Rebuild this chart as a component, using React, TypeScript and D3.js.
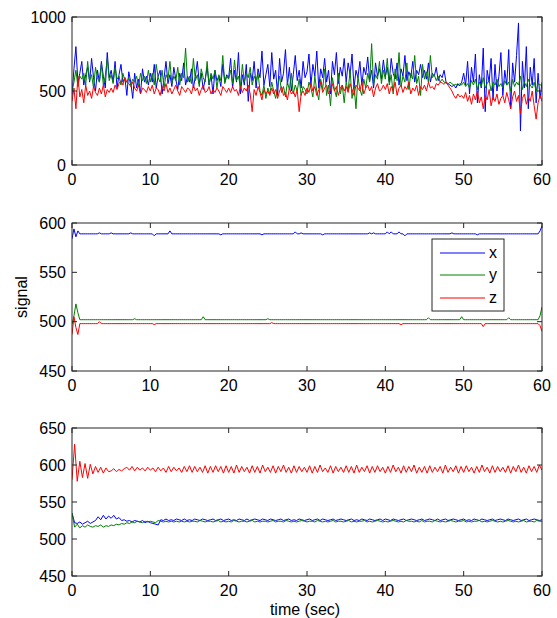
import React from 'react';
import * as d3 from 'd3';

// sampling steps (sec)
const rawDt = 0.25;
const filtDt = 1 / 3;

const xTicks = [0, 10, 20, 30, 40, 50, 60];
const rawTicks = [0, 500, 1000];
const midTicks = [450, 500, 550, 600];
const filtTicks = [450, 500, 550, 600, 650];
const seriesNames = ['x', 'y', 'z'];
const seriesColors = ['#0000ff', '#008000', '#ff0000'];

// raw accelerometer signal
const rawX = [
  470, 650, 800, 560, 620, 700, 540, 610, 660, 560, 720, 590, 500, 640, 560, 700, 600, 520, 760, 590,
  640, 560, 700, 520, 610, 680, 560, 590, 470, 630, 560, 450, 620, 520, 580, 480, 650, 560, 600, 540,
  620, 560, 680, 520, 600, 640, 480, 590, 700, 550, 610, 530, 660, 580, 510, 620, 570, 690, 540, 600,
  560, 650, 520, 600, 700, 550, 620, 510, 580, 660, 540, 610, 480, 640, 570, 600, 530, 680, 560, 610,
  590, 720, 520, 640, 560, 760, 480, 610, 540, 680, 430, 620, 570, 700, 520, 650, 590, 770, 540, 610,
  680, 530, 760, 580, 640, 470, 720, 560, 620, 780, 540, 660, 500, 610, 740, 570, 640, 520, 700, 590,
  630, 750, 540, 680, 600, 770, 520, 650, 590, 720, 560, 640, 480, 700, 610, 760, 550, 660, 600, 720,
  560, 690, 610, 750, 520, 640, 590, 700, 540, 660, 610, 730, 570, 640, 520, 690, 600, 650, 580, 710,
  600, 660, 560, 720, 620, 580, 690, 540, 650, 600, 740, 570, 630, 590, 700, 560, 640, 610, 680, 590,
  640, 580, 690, 560, 620, 600, 660, 570, 610, 590, 640, 560, 550, 540, 530, 540, 520, 550, 535, 560,
  620, 540, 700, 480, 660, 560, 750, 420, 610, 520, 790, 360, 640, 560, 720, 440, 680, 500, 600, 760,
  470, 640, 540, 780, 380, 690, 560, 740, 960, 230, 700, 520, 800, 380, 660, 540, 720, 420, 620, 450,
  560,
];
const rawY = [
  500, 560, 640, 530, 600, 580, 620, 540, 700, 570, 610, 520, 660, 590, 560, 680, 540, 600, 720, 570,
  610, 550, 660, 580, 600, 540, 620, 570, 560, 590, 540, 580, 560, 600, 530, 620, 570, 600, 550, 640,
  560, 620, 540, 680, 590, 560, 640, 520, 610, 580, 700, 550, 600, 570, 660, 540, 620, 590, 790, 560,
  600, 550, 720, 570, 610, 530, 650, 590, 560, 700, 540, 620, 580, 640, 520, 610, 570, 740, 550, 600,
  580, 640, 550, 710, 570, 600, 530, 680, 560, 620, 590, 660, 540, 600, 570, 620, 500, 470, 540, 450,
  520, 480, 560, 500, 450, 540, 600, 490, 530, 460, 560, 510, 620, 480, 540, 500, 580, 470, 530, 510,
  480, 560, 520, 460, 600, 500, 440, 580, 510, 650, 470, 540, 400, 590, 510, 460, 620, 480, 540, 420,
  560, 500, 640, 450, 540, 380, 600, 510, 470, 580, 520, 620, 560, 820, 540, 610, 580, 700, 550, 640,
  580, 720, 540, 610, 480, 650, 570, 760, 530, 600, 560, 690, 510, 620, 580, 740, 550, 600, 470, 680,
  580, 630, 560, 740, 590, 610, 570, 600, 560, 580, 560, 555, 545, 560, 550, 540, 545, 535, 550, 540,
  560, 530, 550, 520, 570, 540, 580, 510, 560, 530, 590, 520, 550, 570, 500, 560, 540, 580, 530, 550,
  520, 570, 540, 560, 500, 580, 530, 560, 540, 600, 510, 560, 530, 580, 540, 520, 560, 500, 550, 540,
  545,
];
const rawZ = [
  430, 520, 380, 600, 460, 510, 420, 540, 470, 500, 450, 530, 490, 470, 520, 480, 540, 460, 510, 490,
  520, 490, 540, 510, 550, 570, 540, 590, 560, 550, 530, 560, 520, 500, 540, 480, 520, 510, 490, 530,
  500, 540, 480, 520, 510, 470, 530, 500, 550, 490, 520, 480, 510, 540, 500, 470, 530, 510, 490, 520,
  510, 480, 540, 500, 520, 470, 510, 540, 490, 500, 530, 480, 510, 490, 520, 500, 470, 530, 510, 490,
  520, 490, 530, 500, 510, 470, 530, 490, 520, 500, 540, 480, 360, 510, 470, 530, 490, 440, 510, 480,
  500, 470, 520, 480, 510, 450, 500, 530, 470, 490, 440, 520, 480, 500, 460, 510, 360, 480, 500, 470,
  520, 490, 550, 500, 530, 470, 510, 560, 490, 520, 540, 480, 510, 550, 500, 530, 470, 520, 540, 500,
  530, 490, 550, 510, 470, 540, 520, 500, 560, 480, 520, 540, 500, 530, 460, 520, 550, 500, 510, 540,
  510, 550, 480, 530, 500, 560, 470, 520, 540, 490, 530, 510, 560, 480, 520, 500, 540, 470, 530, 510,
  540, 500, 560, 520, 530, 510, 550, 540, 560, 555, 545, 560, 540, 520, 500, 470, 450, 480, 460, 470,
  450, 490, 430, 470, 410, 480, 440, 500, 420, 460, 380, 470, 440, 510, 400, 460, 430, 480, 410, 450,
  470, 420, 490, 440, 380, 460, 500, 430, 470, 350, 450, 480, 410, 460, 430, 500, 400, 310, 420, 470,
  430,
];

// calibrated signal
const midX = [
  584, 594, 586, 592, 589, 589, 589, 589, 589, 589, 589, 589, 589, 589, 590, 589, 589, 589, 589, 589,
  590, 589, 589, 589, 589, 589, 589, 589, 589, 589, 590, 589, 589, 589, 589, 589, 589, 589, 589, 589,
  589, 589, 587, 589, 589, 589, 589, 589, 589, 589, 592, 589, 589, 589, 589, 589, 589, 589, 589, 589,
  589, 589, 589, 589, 589, 589, 589, 589, 589, 589, 589, 589, 589, 589, 589, 589, 588, 589, 589, 589,
  589, 589, 589, 589, 589, 589, 589, 589, 589, 589, 589, 589, 589, 589, 589, 589, 589, 588, 589, 589,
  589, 589, 589, 589, 589, 589, 589, 589, 589, 589, 589, 589, 589, 589, 591, 589, 589, 590, 589, 589,
  589, 589, 589, 589, 589, 589, 589, 589, 588, 589, 589, 589, 589, 589, 589, 589, 589, 589, 589, 589,
  589, 589, 589, 589, 589, 589, 589, 589, 589, 589, 589, 589, 590, 589, 590, 589, 589, 589, 589, 589,
  589, 591, 589, 591, 589, 589, 589, 591, 589, 589, 587, 589, 589, 589, 589, 589, 589, 589, 589, 589,
  589, 589, 589, 589, 589, 589, 589, 589, 589, 589, 589, 589, 589, 589, 590, 589, 589, 589, 589, 589,
  589, 589, 589, 589, 589, 589, 589, 588, 589, 589, 589, 589, 589, 589, 589, 589, 589, 589, 589, 589,
  589, 589, 589, 589, 589, 589, 589, 589, 589, 589, 589, 589, 589, 589, 589, 589, 589, 589, 589, 592,
  597,
];
const midY = [
  497, 506, 518, 509, 502, 502, 502, 502, 502, 502, 502, 502, 502, 502, 502, 502, 502, 502, 502, 502,
  502, 502, 502, 502, 502, 502, 502, 502, 502, 502, 502, 502, 503, 502, 502, 502, 502, 502, 502, 502,
  502, 502, 502, 502, 502, 502, 502, 502, 502, 502, 502, 502, 502, 502, 502, 502, 502, 502, 502, 502,
  502, 502, 502, 502, 502, 502, 502, 505, 502, 502, 502, 502, 502, 502, 502, 502, 502, 502, 502, 502,
  502, 502, 502, 502, 502, 502, 502, 502, 502, 502, 502, 502, 502, 502, 502, 502, 502, 502, 502, 502,
  503, 502, 502, 502, 502, 502, 502, 502, 502, 502, 502, 502, 502, 502, 502, 502, 502, 502, 502, 502,
  502, 502, 502, 502, 502, 502, 502, 502, 502, 502, 502, 502, 502, 502, 502, 502, 502, 502, 502, 502,
  502, 502, 502, 502, 502, 502, 502, 502, 502, 502, 502, 502, 502, 502, 502, 502, 502, 502, 502, 502,
  502, 502, 502, 502, 502, 502, 502, 502, 502, 502, 502, 502, 502, 502, 502, 502, 502, 502, 502, 502,
  502, 502, 504, 502, 502, 502, 502, 502, 502, 502, 502, 502, 502, 502, 502, 502, 502, 502, 502, 505,
  502, 502, 502, 502, 502, 502, 502, 502, 502, 502, 502, 502, 502, 502, 502, 502, 502, 502, 502, 502,
  502, 502, 502, 504, 502, 502, 502, 502, 502, 502, 502, 502, 502, 502, 502, 502, 502, 502, 502, 506,
  515,
];
const midZ = [
  487, 505, 494, 487, 498, 498, 498, 498, 498, 498, 498, 498, 498, 498, 500, 498, 498, 498, 498, 498,
  498, 498, 498, 498, 498, 498, 498, 498, 498, 498, 498, 498, 498, 498, 498, 498, 498, 498, 498, 498,
  498, 498, 497, 498, 498, 498, 498, 498, 498, 498, 498, 498, 498, 498, 498, 498, 498, 498, 498, 498,
  498, 498, 498, 498, 498, 498, 498, 498, 498, 498, 498, 498, 498, 498, 498, 498, 498, 498, 498, 498,
  498, 498, 498, 498, 498, 498, 498, 498, 498, 498, 498, 498, 498, 498, 498, 498, 498, 498, 498, 498,
  498, 498, 499, 498, 498, 498, 498, 498, 498, 498, 498, 498, 498, 498, 498, 498, 498, 498, 498, 498,
  498, 498, 498, 498, 498, 498, 498, 498, 498, 498, 498, 498, 498, 498, 498, 498, 498, 498, 498, 498,
  498, 498, 498, 498, 498, 498, 498, 498, 498, 498, 498, 498, 498, 498, 498, 498, 498, 498, 498, 498,
  498, 498, 498, 498, 498, 498, 498, 498, 497, 498, 498, 498, 498, 498, 498, 498, 498, 498, 498, 498,
  498, 498, 498, 498, 498, 498, 498, 498, 498, 498, 498, 498, 498, 498, 498, 498, 498, 498, 498, 498,
  498, 498, 498, 498, 498, 498, 498, 498, 498, 498, 495, 498, 498, 498, 498, 498, 498, 498, 498, 498,
  498, 498, 498, 498, 498, 498, 498, 498, 498, 498, 498, 498, 498, 498, 498, 498, 498, 498, 498, 496,
  490,
];

// filtered signal
const filtX = [
  535, 522, 521, 523, 520, 522, 524, 521, 523, 525, 530, 526, 532, 527, 531,
  528, 532, 527, 529, 525, 526, 524, 525, 523, 525, 524, 523, 525, 522, 524,
  522, 521, 520, 519, 526, 525, 527, 525, 526, 525, 527, 526, 525, 527, 525,
  526, 525, 527, 526, 525, 527, 526, 525, 526, 527, 525, 526, 527, 525, 526,
  527, 525, 526, 525, 527, 526, 525, 527, 525, 526, 527, 526, 525, 527, 526,
  525, 527, 526, 525, 526, 527, 525, 526, 527, 525, 526, 525, 527, 526, 525,
  526, 527, 525, 526, 527, 525, 527, 526, 525, 526, 527, 525, 526, 527, 526,
  525, 526, 527, 525, 526, 525, 527, 526, 525, 527, 526, 525, 526, 527, 525,
  527, 526, 525, 527, 526, 525, 526, 527, 525, 526, 527, 526, 525, 526, 527,
  525, 526, 527, 526, 525, 527, 525, 526, 527, 525, 526, 527, 526, 525, 526,
  527, 525, 526, 525, 527, 526, 525, 527, 526, 525, 526, 527, 525, 526, 527,
  526, 525, 527, 526, 525, 526, 527, 525, 526, 527, 525, 526, 527, 526, 525,
  526,
];
const filtY = [
  535, 516, 520, 515, 518, 516, 519, 517, 516, 518, 517, 519, 516, 518, 517,
  519, 518, 520, 519, 521, 520, 522, 521, 523, 522, 524, 523, 522, 524, 523,
  524, 523, 522, 525, 524, 523, 524, 523, 524, 523, 524, 523, 524, 523, 524,
  523, 524, 524, 523, 525, 524, 523, 524, 524, 523, 524, 525, 523, 524, 523,
  524, 523, 525, 524, 523, 524, 524, 523, 524, 525, 523, 524, 523, 524, 524,
  523, 524, 525, 523, 524, 524, 523, 525, 524, 523, 524, 523, 524, 525, 524,
  523, 524, 524, 523, 525, 524, 523, 524, 523, 524, 525, 523, 524, 524, 523,
  524, 525, 523, 524, 523, 524, 524, 525, 523, 524, 523, 524, 525, 524, 523,
  524, 523, 524, 525, 524, 523, 524, 523, 525, 524, 524, 523, 524, 523, 525,
  523, 524, 524, 523, 525, 524, 523, 524, 523, 524, 525, 524, 523, 524, 524,
  525, 523, 524, 523, 524, 524, 525, 523, 524, 523, 524, 525, 524, 523, 524,
  523, 524, 525, 524, 523, 524, 523, 524, 525, 523, 524, 524, 523, 525, 524,
  524,
];
const filtZ = [
  580, 628, 578, 605, 583, 602, 582, 601, 588, 598, 590, 597, 589, 596, 591,
  592, 595, 591, 594, 592, 595, 597, 593, 598, 592, 597, 593, 596, 592, 597,
  593, 596, 591, 597, 592, 596, 590, 598, 591, 597, 592, 596, 590, 598, 591,
  599, 590, 598, 591, 597, 590, 599, 589, 598, 590, 599, 591, 598, 589, 599,
  590, 598, 589, 600, 590, 598, 591, 597, 589, 599, 590, 598, 589, 600, 591,
  597, 590, 599, 589, 598, 591, 600, 590, 597, 589, 599, 590, 598, 591, 597,
  590, 599, 589, 598, 590, 600, 591, 596, 590, 599, 589, 598, 591, 597, 590,
  599, 590, 598, 589, 600, 590, 597, 591, 599, 589, 598, 590, 599, 591, 597,
  589, 598, 590, 600, 591, 597, 589, 599, 590, 598, 591, 600, 589, 597, 590,
  598, 589, 599, 590, 597, 591, 598, 589, 600, 590, 597, 591, 599, 589, 598,
  590, 599, 591, 597, 589, 598, 590, 600, 591, 597, 589, 599, 590, 598, 591,
  597, 590, 599, 589, 598, 591, 600, 590, 597, 589, 599, 591, 598, 590, 600,
  593,
];

const left = 72;
const right = 542;
const plotH = 148;
const font = 'Liberation Sans, Arial, Helvetica, sans-serif';
const axisColor = '#262626';

type PanelProps = {
  id: string;
  top: number;
  domain: [number, number];
  ticks: number[];
  series: number[][];
  dt: number;
  children?: React.ReactNode;
};

const Panel = ({ id, top, domain, ticks, series, dt, children }: PanelProps) => {
  const x = d3.scaleLinear().domain([0, 60]).range([left, right]);
  const y = d3.scaleLinear().domain(domain).range([top + plotH, top]);
  const line = d3.line<number>().x((_, i) => x(i * dt)).y(d => y(d));
  const bottom = top + plotH;

  return (
    <g>
      <defs>
        <clipPath id={id}>
          <rect x={left} y={top} width={right - left} height={plotH} />
        </clipPath>
      </defs>
      <rect x={left} y={top} width={right - left} height={plotH} fill="#fff" />
      <g clipPath={`url(#${id})`}>
        {series.map((s, k) => (
          <path key={k} d={line(s) || ''} fill="none" stroke={seriesColors[k]} strokeWidth={1} />
        ))}
      </g>
      <rect x={left} y={top} width={right - left} height={plotH} fill="none" stroke={axisColor} strokeWidth={1} />
      {xTicks.map(t => (
        <g key={'x' + t}>
          <line x1={x(t)} x2={x(t)} y1={bottom} y2={bottom - 5} stroke={axisColor} />
          <line x1={x(t)} x2={x(t)} y1={top} y2={top + 5} stroke={axisColor} />
          <text x={x(t)} y={bottom + 20} textAnchor="middle" fontSize={16} fontFamily={font} fill="#000">{t}</text>
        </g>
      ))}
      {ticks.map(t => (
        <g key={'y' + t}>
          <line x1={left} x2={left + 5} y1={y(t)} y2={y(t)} stroke={axisColor} />
          <line x1={right} x2={right - 5} y1={y(t)} y2={y(t)} stroke={axisColor} />
          <text x={left - 6} y={y(t)} dy="0.36em" textAnchor="end" fontSize={16} fontFamily={font} fill="#000">{t}</text>
        </g>
      ))}
      {children}
    </g>
  );
};

const Legend = () => {
  const lx = 432;
  const ly = 239;
  const rows = [253, 275, 298];
  return (
    <g>
      <rect x={lx} y={ly} width={72} height={72} fill="#fff" stroke={axisColor} strokeWidth={1} />
      {seriesNames.map((n, i) => (
        <g key={n}>
          <line x1={440} x2={485} y1={rows[i]} y2={rows[i]} stroke={seriesColors[i]} strokeWidth={1} />
          <text x={489} y={rows[i]} dy="0.33em" fontSize={16} fontFamily={font} fill="#000">{n}</text>
        </g>
      ))}
    </g>
  );
};

const App = () => (
  <svg width={557} height={618} style={{ position: 'absolute', left: 0, top: 0, background: '#fff' }}>
    <Panel id="raw" top={17} domain={[0, 1000]} ticks={rawTicks} series={[rawX, rawY, rawZ]} dt={rawDt} />
    <Panel id="mid" top={223} domain={[450, 600]} ticks={midTicks} series={[midX, midY, midZ]} dt={rawDt}>
      <Legend />
    </Panel>
    <Panel id="filt" top={428} domain={[450, 650]} ticks={filtTicks} series={[filtX, filtY, filtZ]} dt={filtDt} />
    <text transform="translate(27,297) rotate(-90)" textAnchor="middle" fontSize={16} fontFamily={font} fill="#000">signal</text>
    <text x={305} y={615} textAnchor="middle" fontSize={16} fontFamily={font} fill="#000">time (sec)</text>
  </svg>
);

export default App;
